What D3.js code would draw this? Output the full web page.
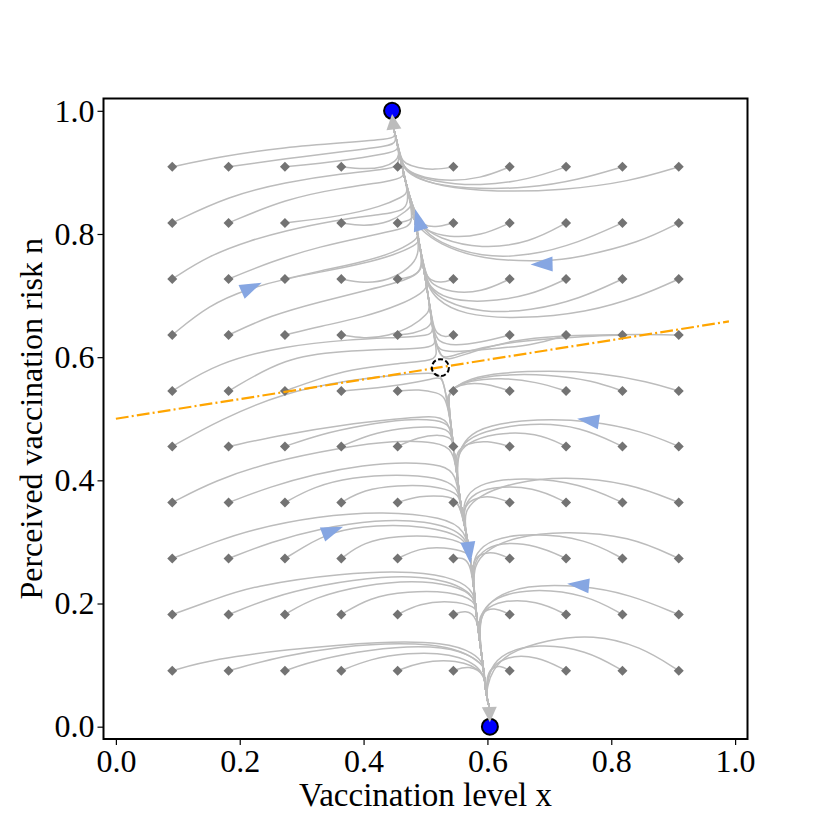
<!DOCTYPE html>
<html>
<head>
<meta charset="utf-8">
<script src="https://cdn.jsdelivr.net/npm/d3@7"></script>
<style>
  html, body { margin: 0; padding: 0; background: #fff; }
  svg { display: block; }
  .tick text { font-family: "Liberation Serif", "Times New Roman", serif; }
</style>
</head>
<body>
<div id="chart"></div>
<script>
// start points of the trajectories (grid)
const gridX = [0.091, 0.182, 0.273, 0.364, 0.455, 0.545, 0.636, 0.727, 0.818, 0.909]
const gridN = [0.091, 0.182, 0.273, 0.364, 0.455, 0.545, 0.636, 0.727, 0.818, 0.909]

const xTicks = [0, 0.2, 0.4, 0.6, 0.8, 1.0]
const nTicks = [0, 0.2, 0.4, 0.6, 0.8, 1.0]

// slow manifold
const manifoldUp = [
  [0.524, 0.583], [0.520, 0.600], [0.513, 0.636], [0.507, 0.682], [0.500, 0.727],
  [0.492, 0.773], [0.484, 0.818], [0.473, 0.864], [0.462, 0.909], [0.455, 0.945],
  [0.449, 0.970]
]
const manifoldDown = [
  [0.524, 0.583], [0.532, 0.545], [0.540, 0.500], [0.545, 0.455], [0.551, 0.409],
  [0.556, 0.364], [0.565, 0.318], [0.573, 0.273], [0.578, 0.227], [0.582, 0.182],
  [0.588, 0.136], [0.594, 0.091], [0.598, 0.050], [0.603, 0.032]
]
const arrowTips = [[0.446, 0.995], [0.604, 0.007]]

const saddle = [0.524, 0.583]
const stableX = [0.446, 0.604]
const stableN = [1.0, 0.0]

const nullclineX = [0.0, 0.99]
const nullclineN = [0.5, 0.658]

// blue direction arrows: x, n, dx, dn
const blueArrows = [
  [0.216, 0.712, 1, 0.45],
  [0.489, 0.820, -0.28, 1],
  [0.691, 0.751, -1, -0.02],
  [0.766, 0.497, -1, 0.15],
  [0.347, 0.317, 1, 0.38],
  [0.570, 0.286, 0.12, -1],
  [0.750, 0.230, -1, 0.1]
]

const trajectories = [
  // n = 0.909
  [0, 9, [[0.164, 0.925], [0.272, 0.941], [0.379, 0.949], [0.440, 0.954], [0.452, 0.958]]],
  [1, 9, [[0.272, 0.922], [0.379, 0.935], [0.440, 0.943], [0.454, 0.948]]],
  [2, 9, [[0.325, 0.914], [0.406, 0.925], [0.445, 0.932], [0.456, 0.938]]],
  [3, 9, [[0.400, 0.905], [0.433, 0.908], [0.452, 0.918], [0.458, 0.928]]],
  [4, 9, [[0.458, 0.930]]],
  [5, 9, [[0.515, 0.904], [0.487, 0.907], [0.466, 0.915], [0.461, 0.922]]],
  [6, 9, [[0.590, 0.890], [0.530, 0.885], [0.485, 0.895], [0.465, 0.908], [0.461, 0.918]]],
  [7, 9, [[0.669, 0.889], [0.589, 0.877], [0.510, 0.885], [0.472, 0.900], [0.462, 0.914]]],
  [8, 9, [[0.748, 0.888], [0.668, 0.874], [0.560, 0.873], [0.495, 0.885], [0.468, 0.902], [0.462, 0.914]]],
  [9, 9, [[0.830, 0.885], [0.722, 0.871], [0.614, 0.868], [0.520, 0.877], [0.475, 0.896], [0.462, 0.914]]],
  // n = 0.818
  [0, 8, [[0.183, 0.862], [0.274, 0.884], [0.365, 0.898], [0.440, 0.905], [0.460, 0.912]]],
  [1, 8, [[0.274, 0.857], [0.365, 0.875], [0.440, 0.885], [0.468, 0.892]]],
  [2, 8, [[0.365, 0.829], [0.430, 0.845], [0.462, 0.860], [0.474, 0.868]]],
  [3, 8, [[0.400, 0.812], [0.444, 0.819], [0.470, 0.838], [0.480, 0.848]]],
  [4, 8, [[0.476, 0.822], [0.485, 0.832]]],
  [5, 8, [[0.515, 0.810], [0.495, 0.815], [0.487, 0.825]]],
  [6, 8, [[0.590, 0.797], [0.537, 0.794], [0.498, 0.806], [0.487, 0.822]]],
  [7, 8, [[0.669, 0.786], [0.590, 0.775], [0.520, 0.793], [0.490, 0.814]]],
  [8, 8, [[0.748, 0.786], [0.668, 0.764], [0.590, 0.762], [0.520, 0.786], [0.490, 0.812]]],
  [9, 8, [[0.846, 0.786], [0.748, 0.762], [0.694, 0.755], [0.590, 0.758], [0.520, 0.784], [0.490, 0.810]]],
  // n = 0.727
  [0, 7, [[0.150, 0.765], [0.218, 0.790], [0.273, 0.805], [0.350, 0.822], [0.430, 0.832], [0.470, 0.838]]],
  [1, 7, [[0.250, 0.755], [0.330, 0.780], [0.410, 0.797], [0.460, 0.808], [0.482, 0.815]]],
  [2, 7, [[0.330, 0.740], [0.400, 0.755], [0.450, 0.770], [0.482, 0.788], [0.490, 0.798]]],
  [3, 7, [[0.400, 0.720], [0.440, 0.724], [0.475, 0.745], [0.492, 0.768]]],
  [4, 7, [[0.480, 0.730], [0.497, 0.745]]],
  [5, 7, [[0.525, 0.720], [0.507, 0.725], [0.500, 0.735]]],
  [6, 7, [[0.590, 0.705], [0.540, 0.705], [0.510, 0.718], [0.501, 0.732]]],
  [7, 7, [[0.670, 0.700], [0.590, 0.688], [0.530, 0.695], [0.506, 0.715], [0.501, 0.730]]],
  [8, 7, [[0.750, 0.695], [0.670, 0.675], [0.590, 0.672], [0.530, 0.690], [0.506, 0.713], [0.501, 0.730]]],
  [9, 7, [[0.850, 0.700], [0.760, 0.672], [0.650, 0.662], [0.560, 0.668], [0.515, 0.695], [0.503, 0.720]]],
  // n = 0.636
  [0, 6, [[0.150, 0.685], [0.216, 0.712], [0.273, 0.727], [0.330, 0.738], [0.400, 0.752], [0.450, 0.766], [0.485, 0.782], [0.491, 0.790]]],
  [1, 6, [[0.250, 0.668], [0.330, 0.690], [0.410, 0.710], [0.470, 0.725], [0.496, 0.740]]],
  [2, 6, [[0.330, 0.650], [0.400, 0.665], [0.460, 0.685], [0.496, 0.705], [0.503, 0.715]]],
  [3, 6, [[0.400, 0.630], [0.440, 0.634], [0.480, 0.650], [0.503, 0.670], [0.508, 0.680]]],
  [4, 6, [[0.480, 0.638], [0.505, 0.648], [0.511, 0.656]]],
  [5, 6, [[0.532, 0.632], [0.518, 0.638], [0.513, 0.650]]],
  [6, 6, [[0.590, 0.624], [0.545, 0.618], [0.520, 0.625], [0.514, 0.640]]],
  [7, 6, [[0.675, 0.619], [0.589, 0.612], [0.540, 0.608], [0.522, 0.612], [0.517, 0.622]]],
  [8, 6, [[0.760, 0.634], [0.700, 0.630], [0.620, 0.622], [0.560, 0.608], [0.530, 0.597], [0.522, 0.605]]],
  [9, 6, [[0.850, 0.637], [0.780, 0.636], [0.720, 0.635], [0.640, 0.628], [0.570, 0.607], [0.535, 0.594], [0.524, 0.602]]],
  // n = 0.545
  [0, 5, [[0.164, 0.591], [0.271, 0.618], [0.379, 0.629], [0.460, 0.632], [0.505, 0.635], [0.514, 0.642]]],
  [1, 5, [[0.274, 0.600], [0.365, 0.610], [0.455, 0.613], [0.505, 0.615], [0.517, 0.622]]],
  [2, 5, [[0.325, 0.564], [0.379, 0.580], [0.455, 0.590], [0.505, 0.594], [0.521, 0.600]]],
  [3, 5, [[0.400, 0.548], [0.440, 0.552], [0.490, 0.560], [0.515, 0.566], [0.527, 0.568]]],
  [4, 5, [[0.490, 0.548], [0.520, 0.542], [0.532, 0.536]]],
  [5, 5, [[0.538, 0.540], [0.534, 0.535]]],
  [6, 5, [[0.600, 0.557], [0.565, 0.558], [0.545, 0.550], [0.536, 0.540]]],
  [7, 5, [[0.680, 0.560], [0.620, 0.567], [0.570, 0.562], [0.545, 0.550], [0.536, 0.540]]],
  [8, 5, [[0.770, 0.562], [0.700, 0.572], [0.620, 0.572], [0.570, 0.563], [0.545, 0.550], [0.536, 0.540]]],
  [9, 5, [[0.860, 0.560], [0.780, 0.575], [0.700, 0.578], [0.620, 0.575], [0.570, 0.565], [0.545, 0.550], [0.536, 0.540]]],
  // n = 0.455
  [0, 4, [[0.169, 0.499], [0.273, 0.543], [0.379, 0.563], [0.460, 0.572], [0.510, 0.575], [0.526, 0.572]]],
  [1, 4, [[0.274, 0.475], [0.365, 0.490], [0.455, 0.500], [0.510, 0.505], [0.538, 0.500]]],
  [2, 4, [[0.330, 0.475], [0.400, 0.490], [0.470, 0.500], [0.520, 0.498], [0.541, 0.490]]],
  [3, 4, [[0.410, 0.475], [0.460, 0.485], [0.510, 0.488], [0.542, 0.482]]],
  [4, 4, [[0.487, 0.470], [0.525, 0.475], [0.543, 0.468]]],
  [5, 4, [[0.546, 0.450]]],
  [6, 4, [[0.600, 0.465], [0.565, 0.460], [0.550, 0.445], [0.549, 0.430]]],
  [7, 4, [[0.680, 0.478], [0.610, 0.477], [0.565, 0.460], [0.551, 0.440]]],
  [8, 4, [[0.750, 0.488], [0.670, 0.494], [0.590, 0.480], [0.560, 0.460], [0.551, 0.438]]],
  [9, 4, [[0.850, 0.480], [0.766, 0.497], [0.680, 0.500], [0.600, 0.490], [0.565, 0.470], [0.552, 0.440]]],
  // n = 0.364
  [0, 3, [[0.160, 0.400], [0.250, 0.430], [0.364, 0.453], [0.450, 0.465], [0.520, 0.462], [0.545, 0.450]]],
  [1, 3, [[0.250, 0.390], [0.320, 0.410], [0.400, 0.425], [0.470, 0.430], [0.530, 0.425], [0.549, 0.410]]],
  [2, 3, [[0.320, 0.390], [0.380, 0.405], [0.455, 0.410], [0.520, 0.405], [0.552, 0.390]]],
  [3, 3, [[0.400, 0.385], [0.455, 0.392], [0.510, 0.392], [0.553, 0.380]]],
  [4, 3, [[0.490, 0.375], [0.530, 0.375], [0.554, 0.370]]],
  [5, 3, [[0.552, 0.362], [0.557, 0.352]]],
  [6, 3, [[0.605, 0.376], [0.575, 0.370], [0.560, 0.355]]],
  [7, 3, [[0.675, 0.390], [0.605, 0.390], [0.572, 0.375], [0.560, 0.352]]],
  [8, 3, [[0.750, 0.395], [0.660, 0.405], [0.590, 0.397], [0.565, 0.375], [0.560, 0.350]]],
  [9, 3, [[0.830, 0.396], [0.723, 0.407], [0.642, 0.397], [0.585, 0.375], [0.562, 0.350]]],
  // n = 0.273
  [0, 2, [[0.160, 0.300], [0.218, 0.320], [0.325, 0.342], [0.433, 0.350], [0.530, 0.340], [0.565, 0.320]]],
  [1, 2, [[0.250, 0.300], [0.330, 0.322], [0.420, 0.336], [0.500, 0.335], [0.566, 0.315]]],
  [2, 2, [[0.300, 0.290], [0.347, 0.317], [0.420, 0.328], [0.500, 0.326], [0.567, 0.308]]],
  [3, 2, [[0.400, 0.300], [0.455, 0.310], [0.520, 0.310], [0.568, 0.298]]],
  [4, 2, [[0.490, 0.290], [0.530, 0.292], [0.570, 0.283]]],
  [5, 2, [[0.560, 0.275], [0.572, 0.265]]],
  [6, 2, [[0.610, 0.285], [0.585, 0.280], [0.575, 0.265]]],
  [7, 2, [[0.680, 0.295], [0.620, 0.300], [0.590, 0.285], [0.577, 0.262]]],
  [8, 2, [[0.760, 0.305], [0.670, 0.315], [0.605, 0.305], [0.580, 0.280], [0.577, 0.260]]],
  [9, 2, [[0.830, 0.310], [0.723, 0.318], [0.642, 0.308], [0.595, 0.285], [0.578, 0.260]]],
  // n = 0.182
  [0, 1, [[0.160, 0.207], [0.218, 0.228], [0.365, 0.250], [0.487, 0.253], [0.550, 0.240], [0.580, 0.220]]],
  [1, 1, [[0.250, 0.210], [0.330, 0.230], [0.430, 0.245], [0.520, 0.243], [0.580, 0.218]]],
  [2, 1, [[0.320, 0.210], [0.400, 0.230], [0.480, 0.238], [0.545, 0.230], [0.581, 0.212]]],
  [3, 1, [[0.410, 0.210], [0.470, 0.220], [0.540, 0.220], [0.582, 0.205]]],
  [4, 1, [[0.490, 0.200], [0.540, 0.205], [0.583, 0.195]]],
  [5, 1, [[0.565, 0.190], [0.584, 0.178]]],
  [6, 1, [[0.610, 0.195], [0.590, 0.185], [0.586, 0.172]]],
  [7, 1, [[0.680, 0.205], [0.620, 0.205], [0.595, 0.190], [0.587, 0.170]]],
  [8, 1, [[0.760, 0.215], [0.670, 0.225], [0.610, 0.210], [0.590, 0.185], [0.588, 0.168]]],
  [9, 1, [[0.830, 0.215], [0.750, 0.230], [0.660, 0.230], [0.610, 0.210], [0.592, 0.185], [0.588, 0.165]]],
  // n = 0.091
  [0, 0, [[0.160, 0.110], [0.271, 0.125], [0.433, 0.139], [0.530, 0.137], [0.580, 0.120], [0.594, 0.100]]],
  [1, 0, [[0.270, 0.115], [0.360, 0.130], [0.460, 0.137], [0.550, 0.130], [0.595, 0.100]]],
  [2, 0, [[0.330, 0.110], [0.410, 0.125], [0.490, 0.132], [0.560, 0.125], [0.596, 0.098]]],
  [3, 0, [[0.410, 0.110], [0.470, 0.120], [0.540, 0.120], [0.597, 0.095]]],
  [4, 0, [[0.490, 0.105], [0.550, 0.110], [0.598, 0.090]]],
  [5, 0, [[0.570, 0.100], [0.598, 0.085]]],
  [6, 0, [[0.620, 0.100], [0.605, 0.095], [0.599, 0.080]]],
  [7, 0, [[0.680, 0.115], [0.630, 0.115], [0.605, 0.095], [0.600, 0.075]]],
  [8, 0, [[0.760, 0.125], [0.680, 0.135], [0.625, 0.120], [0.605, 0.095], [0.600, 0.070]]],
  [9, 0, [[0.847, 0.131], [0.771, 0.150], [0.696, 0.141], [0.632, 0.120], [0.607, 0.090], [0.600, 0.065]]]
]

const width = 830
const height = 830
const margin = { top: 98.5, right: 82.5, bottom: 91, left: 103.5 }
const innerW = width - margin.left - margin.right
const innerH = height - margin.top - margin.bottom

const font = '"Liberation Serif", "Times New Roman", serif'
const lineColor = '#bcbcbc'

const svg = d3.select('#chart')
  .append('svg')
  .attr('width', width)
  .attr('height', height)

const g = svg.append('g')
  .attr('transform', `translate(${margin.left},${margin.top})`)

const x = d3.scaleLinear().domain([-0.02, 1.02]).range([0, innerW])
const y = d3.scaleLinear().domain([-0.02, 1.02]).range([innerH, 0])

g.append('clipPath').attr('id', 'plot-clip')
  .append('rect').attr('width', innerW).attr('height', innerH)

const plot = g.append('g').attr('clip-path', 'url(#plot-clip)')

const line = d3.line()
  .x((d) => x(d[0]))
  .y((d) => y(d[1]))
  .curve(d3.curveBasis)

// build each trajectory: start point, waypoints, then along the manifold
const fullPaths = trajectories.map(([col, row, pts]) => {
  const start = [gridX[col], gridN[row]]
  const last = pts[pts.length - 1]
  const goesUp = last[1] > saddle[1]
  const rest = goesUp
    ? manifoldUp.filter((p) => p[1] > last[1] + 0.006)
    : manifoldDown.filter((p) => p[1] < last[1] - 0.006)
  return [start, ...pts, ...rest]
})

plot.selectAll('.traj')
  .data(fullPaths)
  .enter()
  .append('path')
  .attr('class', 'traj')
  .attr('d', line)
  .attr('fill', 'none')
  .attr('stroke', lineColor)
  .attr('stroke-width', 1.5)

// start diamonds
const starts = trajectories.map(([col, row]) => [gridX[col], gridN[row]])
plot.selectAll('.start')
  .data(starts)
  .enter()
  .append('path')
  .attr('class', 'start')
  .attr('d', d3.symbol(d3.symbolSquare, 50)())
  .attr('transform', (d) => `translate(${x(d[0])},${y(d[1])}) rotate(45)`)
  .attr('fill', '#737373')

// n-nullcline
plot.append('line')
  .attr('x1', x(nullclineX[0])).attr('y1', y(nullclineN[0]))
  .attr('x2', x(nullclineX[1])).attr('y2', y(nullclineN[1]))
  .attr('stroke', '#ffa500')
  .attr('stroke-width', 2.2)
  .attr('stroke-dasharray', '12.8,3.2,2,3.2')

// blue direction arrows
const triangle = (cx, cy, ux, uy, len, wid) => {
  const px = -uy
  const py = ux
  const tip = [cx + ux * len * 0.6, cy + uy * len * 0.6]
  const bx = cx - ux * len * 0.4
  const by = cy - uy * len * 0.4
  return `M${tip[0]},${tip[1]}L${bx + px * wid / 2},${by + py * wid / 2}L${bx - px * wid / 2},${by - py * wid / 2}Z`
}

plot.selectAll('.dir-arrow')
  .data(blueArrows)
  .enter()
  .append('path')
  .attr('class', 'dir-arrow')
  .attr('d', ([ax, an, dx, dn]) => {
    const sx = x(ax + dx * 0.01) - x(ax)
    const sy = y(an + dn * 0.01) - y(an)
    const len = Math.hypot(sx, sy)
    return triangle(x(ax), y(an), sx / len, sy / len, 22, 15)
  })
  .attr('fill', '#86a6e2')

// stable equilibria
plot.selectAll('.stable')
  .data(stableX.map((v, i) => [v, stableN[i]]))
  .enter()
  .append('circle')
  .attr('class', 'stable')
  .attr('cx', (d) => x(d[0]))
  .attr('cy', (d) => y(d[1]))
  .attr('r', 8)
  .attr('fill', '#0000ff')
  .attr('stroke', '#000')
  .attr('stroke-width', 2)

// grey end arrows of the trajectories
const arrowBases = [manifoldUp[manifoldUp.length - 1], manifoldDown[manifoldDown.length - 1]]
plot.selectAll('.end-arrow')
  .data(arrowBases.map((b, i) => [b, arrowTips[i]]))
  .enter()
  .append('path')
  .attr('class', 'end-arrow')
  .attr('d', ([b, t]) => {
    const bx = x(b[0]), by = y(b[1]), tx = x(t[0]), ty = y(t[1])
    const len = Math.hypot(tx - bx, ty - by)
    const ux = (tx - bx) / len, uy = (ty - by) / len
    const w = 15
    return `M${tx},${ty}L${bx - uy * w / 2},${by + ux * w / 2}L${bx + uy * w / 2},${by - ux * w / 2}Z`
  })
  .attr('fill', lineColor)

// saddle
plot.append('circle')
  .attr('cx', x(saddle[0]))
  .attr('cy', y(saddle[1]))
  .attr('r', 8.5)
  .attr('fill', 'none')
  .attr('stroke', '#000')
  .attr('stroke-width', 2)
  .attr('stroke-dasharray', '5,2.5')

// axes
const xAxis = g.append('g')
  .attr('transform', `translate(0,${innerH})`)
  .call(d3.axisBottom(x).tickValues(xTicks).tickFormat(d3.format('.1f')).tickSize(6).tickPadding(4))
const yAxis = g.append('g')
  .call(d3.axisLeft(y).tickValues(nTicks).tickFormat(d3.format('.1f')).tickSize(6).tickPadding(3))

;[xAxis, yAxis].forEach((ax) => {
  ax.select('.domain').remove()
  ax.selectAll('.tick line').attr('stroke', '#000').attr('stroke-width', 1.2)
  ax.selectAll('.tick text')
    .attr('fill', '#000')
    .style('font-family', font)
    .style('font-size', '32px')
})

g.append('rect')
  .attr('width', innerW)
  .attr('height', innerH)
  .attr('fill', 'none')
  .attr('stroke', '#000')
  .attr('stroke-width', 2)

svg.append('text')
  .attr('x', margin.left + innerW / 2)
  .attr('y', 806)
  .attr('text-anchor', 'middle')
  .style('font-family', font)
  .style('font-size', '33px')
  .text('Vaccination level x')

svg.append('text')
  .attr('transform', `translate(42,${margin.top + innerH / 2}) rotate(-90)`)
  .attr('text-anchor', 'middle')
  .style('font-family', font)
  .style('font-size', '32px')
  .text('Perceived vaccination risk n')
</script>
</body>
</html>
